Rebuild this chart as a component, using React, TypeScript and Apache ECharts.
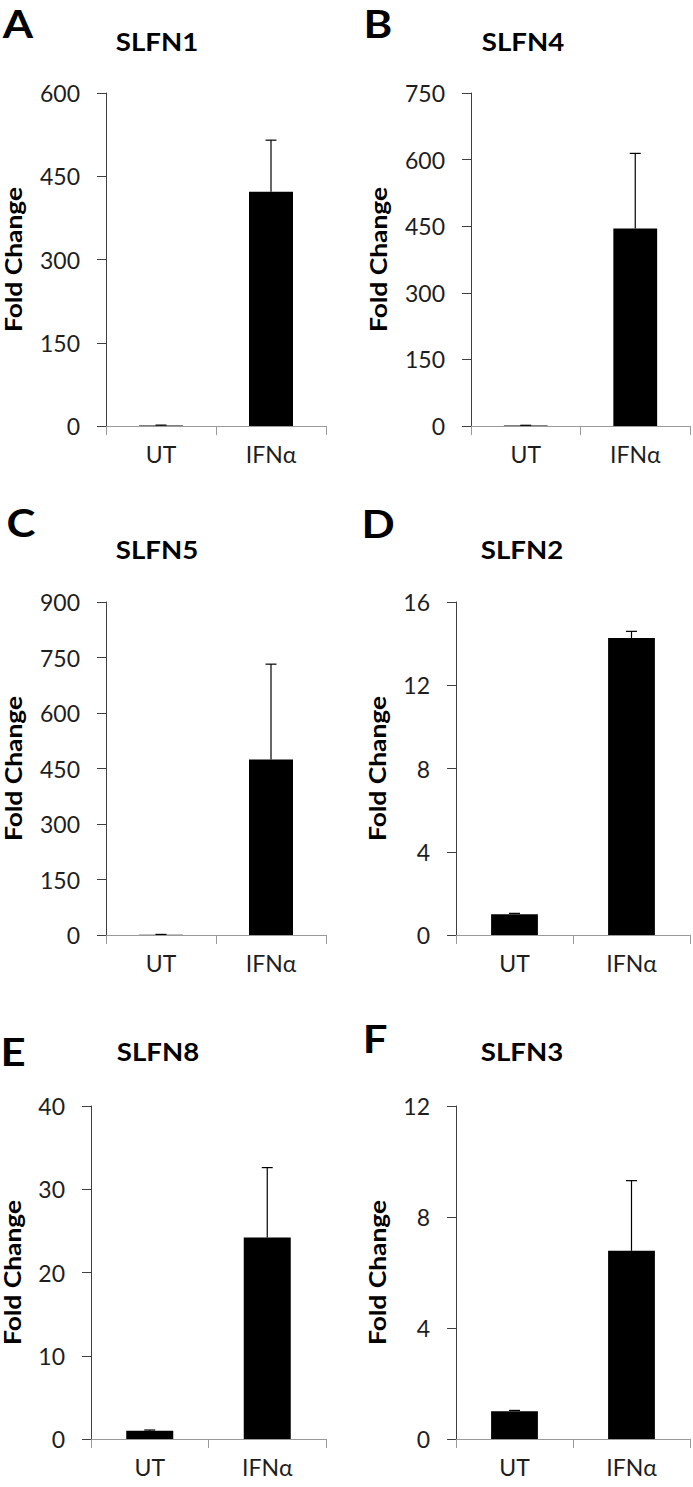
import React, { useEffect, useRef } from "react";
import * as echarts from "echarts";

const categories = ["UT", "IFNα"];
const genes = ["SLFN1", "SLFN4", "SLFN5", "SLFN2", "SLFN8", "SLFN3"];
const panelLetters = ["A", "B", "C", "D", "E", "F"];

const meanSLFN1 = [1, 422];
const errSLFN1 = [0.6, 93];
const meanSLFN4 = [1, 445];
const errSLFN4 = [0.6, 169];
const meanSLFN5 = [1, 474];
const errSLFN5 = [0.6, 258];
const meanSLFN2 = [1.0, 14.27];
const errSLFN2 = [0.04, 0.32];
const meanSLFN8 = [1.0, 24.2];
const errSLFN8 = [0.08, 8.4];
const meanSLFN3 = [1.0, 6.78];
const errSLFN3 = [0.03, 2.53];

const yMax = [600, 750, 900, 16, 40, 12];
const yInterval = [150, 150, 150, 4, 10, 4];

const means = [meanSLFN1, meanSLFN4, meanSLFN5, meanSLFN2, meanSLFN8, meanSLFN3];
const errs = [errSLFN1, errSLFN4, errSLFN5, errSLFN2, errSLFN8, errSLFN3];

// layout (pixels)
const grids = [
  { left: 106, top: 93, width: 220, height: 333 },
  { left: 471, top: 93, width: 219, height: 333 },
  { left: 106, top: 602, width: 220, height: 333 },
  { left: 456, top: 602, width: 234, height: 333 },
  { left: 91, top: 1106, width: 235, height: 333 },
  { left: 456, top: 1106, width: 234, height: 333 },
];
const letterPos = [
  [18, 24],
  [378, 24],
  [21, 523],
  [378, 524],
  [13, 1052],
  [375, 1039],
];
const titlePos = [
  [157, 42],
  [523, 42],
  [157, 550],
  [522, 550],
  [158, 1052],
  [522, 1052],
];
const yNamePos = [
  [13, 259.5],
  [378, 259.5],
  [13, 768.5],
  [377, 768.5],
  [12.5, 1272.5],
  [377, 1272.5],
];

const FONT = "Lato, 'Open Sans', sans-serif";

export default function App() {
  const ref = useRef<HTMLDivElement>(null);

  useEffect(() => {
    if (!ref.current) return;
    const chart = echarts.init(ref.current, undefined, { renderer: "svg" });

    const xAxes: any[] = [];
    const yAxes: any[] = [];
    const series: any[] = [];
    const graphics: any[] = [];

    for (let i = 0; i < 6; i++) {
      xAxes.push({
        type: "category",
        gridIndex: i,
        data: categories,
        axisLine: { show: true, lineStyle: { color: "#9a9a9a", width: 1 } },
        axisTick: { show: true, length: 9, lineStyle: { color: "#9a9a9a" }, alignWithLabel: false },
        axisLabel: { color: "#1e1e1e", fontSize: 23, fontFamily: FONT, margin: 16 },
        splitLine: { show: false },
      });
      yAxes.push({
        type: "value",
        gridIndex: i,
        min: 0,
        max: yMax[i],
        interval: yInterval[i],
        axisLine: { show: true, lineStyle: { color: "#404040", width: 1 } },
        axisTick: { show: true, length: 9, lineStyle: { color: "#404040" } },
        axisLabel: { color: "#1e1e1e", fontSize: 23, fontFamily: FONT, margin: 26 },
        splitLine: { show: false },
      });
      series.push({
        type: "bar",
        xAxisIndex: i,
        yAxisIndex: i,
        data: means[i],
        barWidth: "40%",
        itemStyle: { color: "#000" },
        silent: true,
      });
      series.push({
        type: "custom",
        xAxisIndex: i,
        yAxisIndex: i,
        data: means[i].map((m, k) => [k, m, errs[i][k]]),
        encode: { x: 0, y: 1 },
        z: 5,
        silent: true,
        renderItem: (params: any, api: any) => {
          const x = api.value(0);
          const m = api.value(1);
          const e = api.value(2);
          const p0 = api.coord([x, m]);
          const p1 = api.coord([x, m + e]);
          const half = 5.5;
          const style = { stroke: "#000", lineWidth: 1.2 };
          return {
            type: "group",
            children: [
              { type: "line", shape: { x1: p0[0], y1: p0[1], x2: p1[0], y2: p1[1] }, style },
              { type: "line", shape: { x1: p1[0] - half, y1: p1[1], x2: p1[0] + half, y2: p1[1] }, style },
            ],
          };
        },
      });

      graphics.push({
        type: "text",
        x: letterPos[i][0],
        y: letterPos[i][1],
        scaleX: 1.15,
        style: {
          text: panelLetters[i],
          font: `bold 38px ${FONT}`,
          fill: "#000",
          textAlign: "center",
          textVerticalAlign: "middle",
        },
      });
      graphics.push({
        type: "text",
        x: titlePos[i][0],
        y: titlePos[i][1],
        scaleX: 1.15,
        style: {
          text: genes[i],
          font: `bold 24px ${FONT}`,
          fill: "#000",
          textAlign: "center",
          textVerticalAlign: "middle",
        },
      });
      graphics.push({
        type: "text",
        x: yNamePos[i][0],
        y: yNamePos[i][1],
        rotation: Math.PI / 2,
        scaleX: 1.2,
        style: {
          text: "Fold Change",
          font: `bold 22px ${FONT}`,
          fill: "#000",
          textAlign: "center",
          textVerticalAlign: "middle",
        },
      });
    }

    chart.setOption({
      animation: false,
      backgroundColor: "#ffffff",
      grid: grids.map((g) => ({ ...g, containLabel: false })),
      xAxis: xAxes,
      yAxis: yAxes,
      series,
      graphic: graphics,
    });

    return () => chart.dispose();
  }, []);

  return (
    <div
      ref={ref}
      style={{ position: "absolute", left: 0, top: 0, width: 693, height: 1487, background: "#fff" }}
    />
  );
}
